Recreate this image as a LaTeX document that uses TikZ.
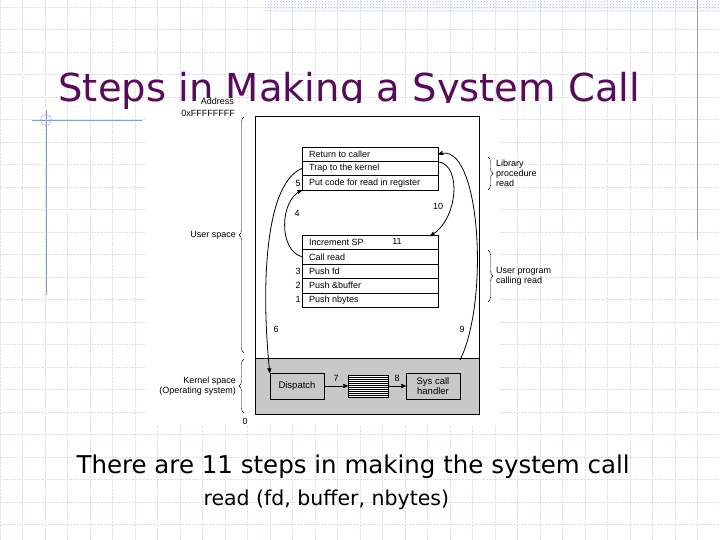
\documentclass[tikz,border=0pt]{standalone}
\usepackage{fontspec}
\setmainfont{DejaVu Sans}
\newfontfamily\figfont{Liberation Sans}
\usetikzlibrary{arrows,decorations.pathreplacing,patterns}
\definecolor{titlepurple}{HTML}{5A0A5A}
\definecolor{gridblue}{HTML}{DCE2F0}
\definecolor{rulebl}{HTML}{8C9CC8}
\definecolor{kernelgray}{HTML}{C8C8C8}
\tikzset{
  row/.style={draw, minimum width=136pt, minimum height=14.4pt, inner sep=0pt, anchor=north west},
  lbl/.style={font=\figfont\fontsize{9}{10}\selectfont, inner sep=1pt},
  kbox/.style={draw, fill=kernelgray, minimum width=54pt, minimum height=26pt, align=center, font=\figfont\fontsize{9.5}{10}\selectfont, inner sep=0pt},
  brc/.style={decorate, decoration={brace, amplitude=5pt}},
  flow/.style={->, >=stealth', thick}
}
\begin{document}
\begin{tikzpicture}[x=1pt, y=-1pt]
\useasboundingbox (0,0) rectangle (720,540);
\fill[white] (0,0) rectangle (720,540);
% slide background
\foreach \gx in {0,22.5,...,720} \draw[gridblue, densely dotted] (\gx,0) -- (\gx,540);
\foreach \gy in {7,29.5,...,540} \draw[gridblue, densely dotted] (0,\gy) -- (720,\gy);
\fill[pattern=crosshatch dots, pattern color=rulebl!60] (265,0) rectangle (720,13);
\draw[rulebl] (697,0) -- (697,240);
\draw[rulebl] (46,110) -- (46,295);
\draw[rulebl] (32,120) -- (142,120);
\draw[rulebl] (46,120) circle (5.5);
\node[font=\fontsize{38.5}{42}\selectfont, text=titlepurple, anchor=base west] (title) at (55,102) {Steps in Making a System Call};
% the figure
\fill[white] (145,103) rectangle (500,425);
\node[lbl, anchor=east, fill=white, inner ysep=0pt] (addr) at (235,101) {Address};
\node[lbl, anchor=east] (top) at (236,113) {0xFFFFFFFF};
\fill[kernelgray] (255,358) rectangle (479,414);
\draw (255,358) -- (479,358);
\draw (255,116) rectangle (479,414);
\node[lbl] (zero) at (245,421) {0};
\node[row] (ret) at (302,147) {};
\node[row] (trap) at (302,161) {};
\node[row] (put) at (302,175.5) {};
\node[lbl, anchor=west] at (ret.west) {\hspace{6pt}Return to caller};
\node[lbl, anchor=west] at (trap.west) {\hspace{6pt}Trap to the kernel};
\node[lbl, anchor=west] at (put.west) {\hspace{6pt}Put code for read in register};
\node[row] (inc) at (302,235) {};
\node[row] (call) at (302,249.4) {};
\node[row] (pfd) at (302,263.8) {};
\node[row] (pbuf) at (302,278.2) {};
\node[row] (pnb) at (302,292.6) {};
\node[lbl, anchor=west] at (inc.west) {\hspace{6pt}Increment SP};
\node[lbl, anchor=west] at (call.west) {\hspace{6pt}Call read};
\node[lbl, anchor=west] at (pfd.west) {\hspace{6pt}Push fd};
\node[lbl, anchor=west] at (pbuf.west) {\hspace{6pt}Push \&buffer};
\node[lbl, anchor=west] at (pnb.west) {\hspace{6pt}Push nbytes};
\node[kbox] (disp) at (297,386) {Dispatch};
\node[kbox] (sys) at (433,386) {Sys call\\handler};
\node[draw, fill=white, minimum width=40pt, minimum height=22pt, inner sep=0pt] (tbl) at (368,386) {};
\foreach \k in {1,...,10} \draw ([yshift=-2*\k pt]tbl.north west) -- ([yshift=-2*\k pt]tbl.north east);
% braces
\draw[brc] (244,353) -- (244,117) node[lbl, midway, anchor=east, xshift=-7pt] (usr) {User space};
\draw[brc] (244,413) -- (244,359) node[lbl, midway, anchor=east, xshift=-7pt, align=right] (krn) {Kernel space\\(Operating system)};
\draw[brc] (488,157) -- (488,190) node[lbl, midway, anchor=west, xshift=7pt, align=left] (lib) {Library\\procedure\\read};
\draw[brc] (488,250) -- (488,302) node[lbl, midway, anchor=west, xshift=7pt, align=left] (uprog) {User program\\calling read};
% steps
\draw[flow] (call.west) .. controls (278,250) and (280,200) .. (put.south west);
\draw[flow] (trap.west) .. controls (262,185) and (262,300) .. (disp.north west);
\draw[flow] (disp) -- (tbl);
\draw[flow] (tbl) -- (sys);
\draw[flow] (460,360) .. controls (490,300) and (480,140) .. (ret.east);
\draw[flow] (ret.south east) .. controls (462,165) and (458,220) .. (430,236);
\node[lbl] (s1) at (298,299.8) {1};
\node[lbl] (s2) at (298,285.4) {2};
\node[lbl] (s3) at (298,271) {3};
\node[lbl] (s4) at (297,213) {4};
\node[lbl] (s5) at (298,183) {5};
\node[lbl] (s6) at (276,329) {6};
\node[lbl] (s7) at (336,378) {7};
\node[lbl] (s8) at (397,378) {8};
\node[lbl] (s9) at (462,329) {9};
\node[lbl] (s10) at (438,206) {10};
\node[lbl] (s11) at (397,241) {11};
% caption
\node[font=\fontsize{24.5}{27}\selectfont, anchor=base west] (cap1) at (73,473) {There are 11 steps in making the system call};
\node[font=\fontsize{20.5}{23}\selectfont, anchor=base west] (cap2) at (200,505) {read (fd, buffer, nbytes)};
\end{tikzpicture}
\end{document}
